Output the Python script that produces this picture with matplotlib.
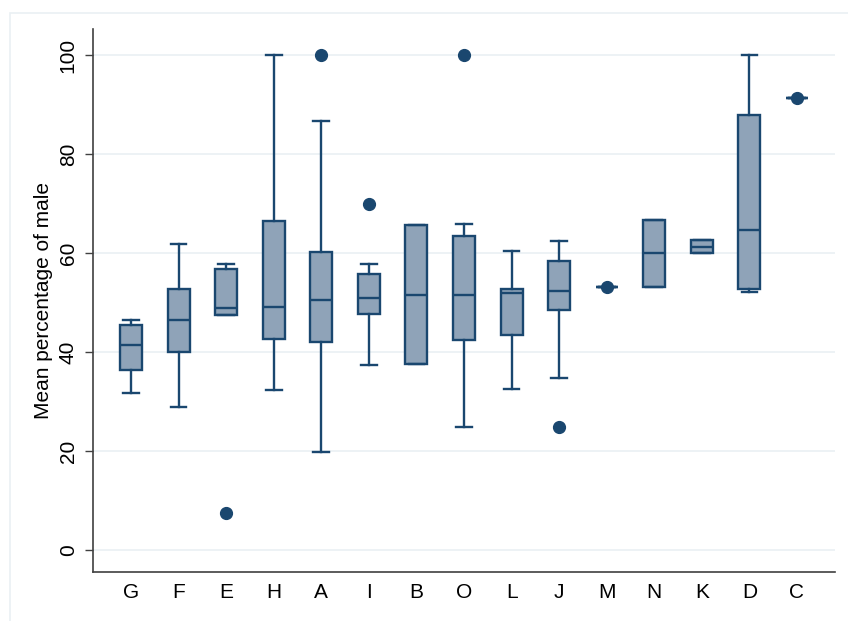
import matplotlib
matplotlib.use("Agg")
import matplotlib.pyplot as plt
from matplotlib.patches import Rectangle

# Valores (estadisticos de cada caja)
groups = ['G', 'F', 'E', 'H', 'A', 'I', 'B', 'O', 'L', 'J', 'M', 'N', 'K', 'D', 'C']
whislo = [31.8, 28.9, 47.6, 32.3, 19.8, 37.4, 37.6, 24.9, 32.6, 34.7, 53.2, 53.1, 60.1, 52.2, 91.3]
q1     = [36.4, 40.1, 47.6, 42.7, 42.1, 47.7, 37.6, 42.4, 43.4, 48.5, 53.2, 53.1, 60.1, 52.8, 91.3]
med    = [41.5, 46.6, 48.9, 49.1, 50.6, 51.0, 51.6, 51.6, 52.0, 52.4, 53.2, 60.0, 61.3, 64.6, 91.3]
q3     = [45.5, 52.8, 56.8, 66.6, 60.3, 55.8, 65.7, 63.4, 52.7, 58.4, 53.2, 66.7, 62.7, 87.9, 91.3]
whishi = [46.6, 61.9, 57.9, 100.0, 86.7, 57.8, 65.7, 65.9, 60.5, 62.5, 53.2, 66.7, 62.7, 100.0, 91.3]
outliers = [[], [], [7.5], [], [100.0], [69.9], [], [100.0], [], [24.8], [53.2], [], [], [], [91.3]]

navy = '#1a476f'
fill = '#8fa3b8'
grid_col = '#eaf0f3'

plt.rcParams['font.family'] = ['Liberation Sans', 'DejaVu Sans']

fig = plt.figure(figsize=(8.48, 6.21), dpi=100)
ax = fig.add_axes([93/848, 1 - 572/621, (835 - 93)/848, (572 - 29)/621])

# Marco claro alrededor de la figura
fig.patches.append(Rectangle((10/848, -0.1), 1.2, 1 - 13/621 + 0.1, transform=fig.transFigure,
                             fill=False, edgecolor=grid_col, linewidth=1.2, clip_on=False))

stats = []
for i, g in enumerate(groups):
    stats.append({'label': g, 'whislo': whislo[i], 'q1': q1[i], 'med': med[i],
                  'q3': q3[i], 'whishi': whishi[i], 'fliers': outliers[i]})

positions = list(range(1, len(groups) + 1))
ax.bxp(stats, positions=positions, widths=0.46, capwidths=0.33, patch_artist=True,
       boxprops=dict(facecolor=fill, edgecolor=navy, linewidth=1.7),
       medianprops=dict(color=navy, linewidth=1.7),
       whiskerprops=dict(color=navy, linewidth=1.7),
       capprops=dict(color=navy, linewidth=1.7),
       flierprops=dict(marker='o', markerfacecolor=navy, markeredgecolor=navy, markersize=8.5))

ax.set_xlim(0.2, len(groups) + 0.8)
ax.set_ylim(-4.4, 105.3)
ax.set_yticks([0, 20, 40, 60, 80, 100])
for y in [0, 20, 40, 60, 80, 100]:
    ax.axhline(y, color=grid_col, linewidth=1.2, zorder=0)

ax.set_xticks(positions)
ax.set_xticklabels(groups)
ax.tick_params(axis='x', length=0, pad=8, labelsize=15)
ax.tick_params(axis='y', length=6, width=1, color='#404040', pad=5, labelsize=15)
for lab in ax.get_yticklabels():
    lab.set_rotation(90)
    lab.set_va('center')

ax.set_ylabel('Mean percentage of male', fontsize=15, labelpad=4)

for side in ['top', 'right']:
    ax.spines[side].set_visible(False)
for side in ['left', 'bottom']:
    ax.spines[side].set_color('#404040')
    ax.spines[side].set_linewidth(1.2)

fig.savefig('out.png', dpi=100)
